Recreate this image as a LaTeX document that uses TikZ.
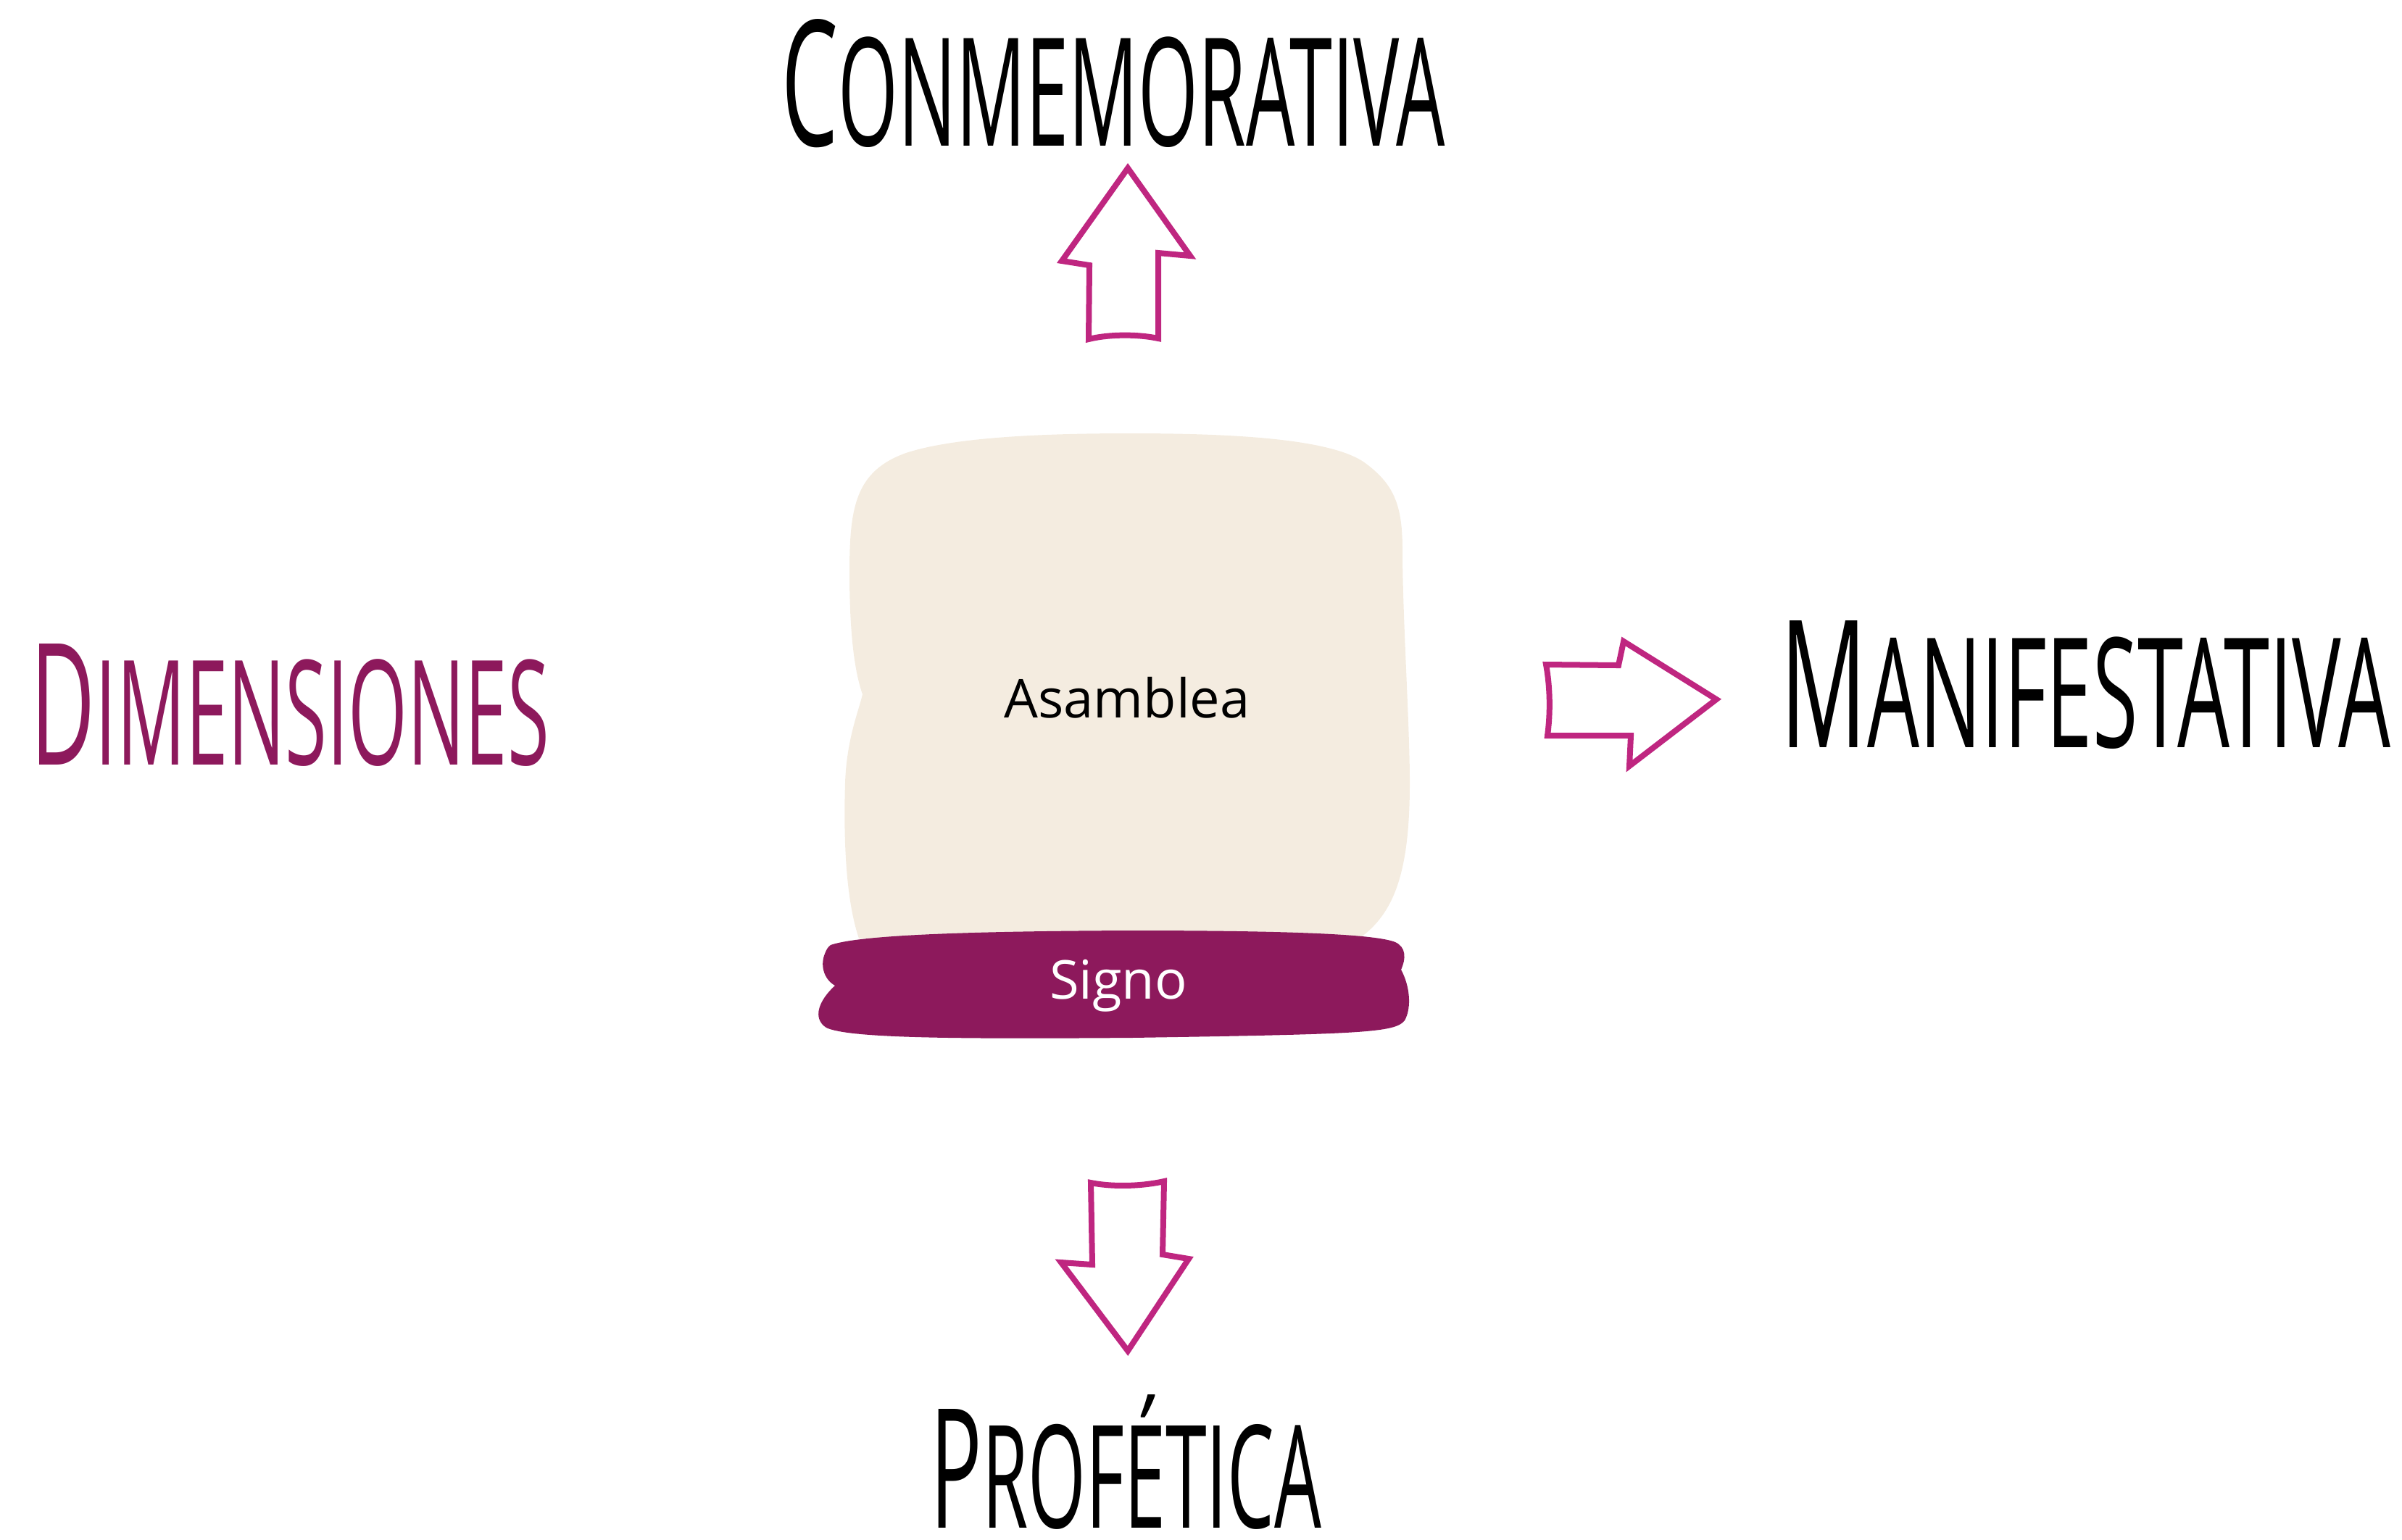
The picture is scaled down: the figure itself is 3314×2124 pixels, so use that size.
\documentclass[tikz,border=0pt]{standalone}
\usepackage{fontspec}
\usepackage{graphicx}
\newfontfamily\osans{Open Sans}
\definecolor{beige}{HTML}{F4ECE0}
\definecolor{plum}{HTML}{8D195C}
\definecolor{arrowpink}{HTML}{BF2680}
\newcommand\mytitle[4]{\resizebox{#1}{#2}{\osans\fontsize{40}{40}\selectfont #3\fontsize{34.4}{34.4}\selectfont #4}}
\tikzset{
  bigarrow/.style={draw=arrowpink, line width=2pt, fill=white, line join=miter, miter limit=4},
  titletext/.style={anchor=base west, inner sep=0pt},
  innertext/.style={anchor=base, inner sep=0pt, font=\osans\fontsize{18.5}{18.5}\selectfont}
}
\begin{document}
\begin{tikzpicture}[x=0.25pt, y=-0.25pt]
\useasboundingbox (0,0) rectangle (3314,2124);
% beige assembly shape
\fill[beige] (1172,790)
  .. controls (1172,700) and (1180,650) .. (1250,625)
  .. controls (1320,602) and (1450,598) .. (1560,598)
  .. controls (1700,598) and (1840,605) .. (1885,640)
  .. controls (1925,670) and (1935,700) .. (1935,760)
  .. controls (1935,850) and (1945,1000) .. (1945,1080)
  .. controls (1945,1200) and (1925,1260) .. (1875,1295)
  -- (1185,1295)
  .. controls (1170,1250) and (1163,1180) .. (1166,1080)
  .. controls (1168,1020) and (1185,980) .. (1190,958)
  .. controls (1180,930) and (1172,880) .. (1172,790) -- cycle;
% signo band
\fill[plum] (1146,1304)
  .. controls (1180,1292) and (1300,1285) .. (1560,1284)
  .. controls (1800,1284) and (1900,1290) .. (1925,1300)
  .. controls (1940,1307) and (1940,1322) .. (1933,1338)
  .. controls (1945,1360) and (1948,1390) .. (1938,1408)
  .. controls (1925,1425) and (1880,1427) .. (1560,1432)
  .. controls (1300,1434) and (1170,1432) .. (1140,1418)
  .. controls (1120,1405) and (1130,1380) .. (1152,1360)
  .. controls (1135,1350) and (1132,1330) .. (1138,1316)
  .. controls (1140,1310) and (1143,1306) .. (1146,1304) -- cycle;
\node[innertext] (asamblea) at (1555,990) {Asamblea};
\node[innertext, text=white] (signo) at (1543,1378) {Signo};
% arrows
\draw[bigarrow] (1556,232) -- (1642,353) -- (1598,349) -- (1598,467)
  .. controls (1570,461) and (1530,461) .. (1502,468)
  -- (1503,366) -- (1465,360) -- cycle;
\draw[bigarrow] (2133,917) -- (2233,918) -- (2240,885) -- (2368,965)
  -- (2248,1057) -- (2250,1015) -- (2135,1015)
  .. controls (2139,985) and (2139,950) .. (2133,917) -- cycle;
\draw[bigarrow] (1505,1632) .. controls (1535,1638) and (1575,1637) .. (1606,1630)
  -- (1604,1731) -- (1640,1737) -- (1556,1864) -- (1464,1742)
  -- (1507,1745) -- cycle;
% titles
\node[titletext] (conm) at (1078,201) {\mytitle{228.75pt}{43.75pt}{C}{ONMEMORATIVA}};
\node[titletext, text=plum] (dim) at (42,1055) {\mytitle{178.75pt}{41.75pt}{D}{IMENSIONES}};
\node[titletext] (mani) at (2456,1031) {\mytitle{210.25pt}{43.75pt}{M}{ANIFESTATIVA}};
\node[titletext] (prof) at (1283,2108) {\mytitle{134.75pt}{41pt}{P}{ROF\smash{É}TICA}};
\end{tikzpicture}
\end{document}
